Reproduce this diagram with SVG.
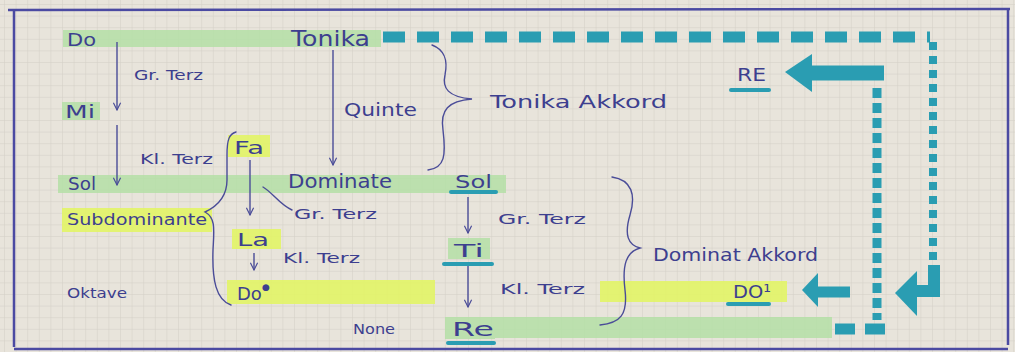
<svg xmlns="http://www.w3.org/2000/svg" width="1015" height="352" viewBox="0 0 1015 352">
<style>
.ink{fill:#3d3f8f;font-family:"DejaVu Sans","Liberation Sans",sans-serif;}
.lbl{font-size:14px;}
.nd{font-size:18px;}
.line{fill:none;stroke:#4a4c98;stroke-width:1.4;stroke-linecap:round;}
.arr{fill:none;stroke:#4a4c98;stroke-width:1.4;marker-end:url(#ah);}
.green{fill:#b4dfa6;opacity:0.85;}
.yellow{fill:#e2f466;opacity:0.9;}
.teal{stroke:#2a9db2;fill:none;}
.tealf{fill:#2a9db2;}
.ul{stroke:#2a9db2;stroke-width:4;stroke-linecap:round;}
</style>
<defs>
<pattern id="grid" width="11.6" height="11.6" patternUnits="userSpaceOnUse" x="4" y="4">
<path d="M11.6 0 L0 0 L0 11.6" fill="none" stroke="#d2cec5" stroke-width="1"/>
</pattern>
<marker id="ah" viewBox="0 0 10 10" refX="9" refY="5" markerWidth="9" markerHeight="9" markerUnits="userSpaceOnUse" orient="auto">
<path d="M1 1 L9 5 L1 9" fill="none" stroke="#4a4c98" stroke-width="1.3"/>
</marker>
</defs>
<rect width="1015" height="352" fill="#e8e4db"/>
<rect width="1015" height="352" fill="url(#grid)"/>
<!-- frame -->
<g id="frame" fill="none" stroke="#4b4aa2" stroke-width="2.5">
<path d="M8 10 L1010 9"/>
<path d="M14 11 L14 347"/>
<path d="M1008 10 L1008 345"/>
<path d="M14 349 L1008 349"/>
</g>
<!-- highlights -->
<g id="highlights">
<rect class="green" x="63" y="30" width="318" height="17"/>
<rect class="green" x="62" y="102" width="38" height="18"/>
<rect class="green" x="58" y="175" width="448" height="18"/>
<rect class="green" x="448" y="238" width="42" height="21"/>
<rect class="green" x="445" y="317" width="50" height="22"/>
<rect class="green" x="495" y="317" width="337" height="21" opacity="0.7"/>
<rect class="yellow" x="228" y="135" width="42" height="22"/>
<rect class="yellow" x="62" y="208" width="150" height="24"/>
<rect class="yellow" x="232" y="229" width="49" height="20"/>
<rect class="yellow" x="227" y="280" width="208" height="24"/>
<rect class="yellow" x="600" y="281" width="187" height="21"/>
</g>
<!-- connectors -->
<g id="connectors">
<path class="arr" d="M117 42 L117 110"/>
<path class="arr" d="M117 125 L117 185"/>
<path class="arr" d="M333 50 L333 165"/>
<path class="arr" d="M250 160 L250 215"/>
<path class="arr" d="M254 253 L254 270"/>
<path class="arr" d="M468 197 L468 233"/>
<path class="arr" d="M468 262 L468 307"/>
<path class="line" d="M263 187 C272 192 280 205 292 210"/>
<path class="line" d="M432 45 C445 50 448 60 445 75 C442 88 448 97 472 99 C448 101 440 110 443 130 C446 155 445 168 428 170"/>
<path class="line" d="M612 177 C632 180 636 195 630 215 C624 235 628 245 640 248 C626 252 622 265 625 290 C628 315 620 323 600 325"/>
<path class="line" d="M236 132 C229 134 227 140 227 155 L227 180 C227 195 220 205 205 212 C216 218 214 230 213 250 C212 280 216 300 231 305"/>
<!-- teal paths -->
<path class="teal" d="M383 37 L930 37" stroke-width="11" stroke-dasharray="22 12"/>
<path class="teal" d="M933 42 L933 266" stroke-width="8" stroke-dasharray="8 6"/>
<path class="teal" d="M877 88 L877 320" stroke-width="9" stroke-dasharray="10 5"/>
<path class="teal" d="M835 329 L885 329" stroke-width="11" stroke-dasharray="20 10"/>
<path class="teal" d="M810 73 L884 73" stroke-width="15"/>
<polygon class="tealf" points="785,72 812,54 812,92"/>
<path class="teal" d="M817 292 L850 292" stroke-width="11"/>
<polygon class="tealf" points="802,290 818,273 818,307"/>
<path class="teal" d="M934 265 L934 291 L912 291" stroke-width="12"/>
<polygon class="tealf" points="895,293 917,271 917,316"/>
</g>
<!-- underlines -->
<g id="underlines">
<line class="ul" x1="451" y1="192" x2="496" y2="192"/>
<line class="ul" x1="444" y1="264" x2="492" y2="264"/>
<line class="ul" x1="448" y1="343" x2="494" y2="343"/>
<line class="ul" x1="731" y1="90" x2="769" y2="90"/>
<line class="ul" x1="728" y1="304" x2="769" y2="304"/>
</g>
<!-- nodes -->
<g id="n-do"><text class="ink nd" x="67" y="46" textLength="29" lengthAdjust="spacingAndGlyphs">Do</text></g>
<g id="n-tonika"><text class="ink" font-size="21" x="291" y="46" textLength="79" lengthAdjust="spacingAndGlyphs">Tonika</text></g>
<g id="n-mi"><text class="ink nd" x="65" y="118" textLength="30" lengthAdjust="spacingAndGlyphs">Mi</text></g>
<g id="n-fa"><text class="ink nd" x="234" y="154" textLength="30" lengthAdjust="spacingAndGlyphs">Fa</text></g>
<g id="n-sol"><text class="ink nd" x="68" y="190" textLength="28" lengthAdjust="spacingAndGlyphs">Sol</text></g>
<g id="n-dominate"><text class="ink" font-size="19" x="288" y="188" textLength="104" lengthAdjust="spacingAndGlyphs">Dominate</text></g>
<g id="n-sol2"><text class="ink nd" x="455" y="188" textLength="37" lengthAdjust="spacingAndGlyphs">Sol</text></g>
<g id="n-subdominante"><text class="ink" font-size="16" x="67" y="225" textLength="140" lengthAdjust="spacingAndGlyphs">Subdominante</text></g>
<g id="n-la"><text class="ink nd" x="237" y="246" textLength="32" lengthAdjust="spacingAndGlyphs">La</text></g>
<g id="n-ti"><text class="ink nd" x="454" y="257" textLength="30" lengthAdjust="spacingAndGlyphs">Ti</text></g>
<g id="n-do2"><text class="ink nd" x="237" y="300">Do<tspan font-size="9" dy="-10">●</tspan></text></g>
<g id="n-oktave"><text class="ink lbl" x="67" y="298" textLength="60" lengthAdjust="spacingAndGlyphs">Oktave</text></g>
<g id="n-none"><text class="ink lbl" x="353" y="334" textLength="42" lengthAdjust="spacingAndGlyphs">None</text></g>
<g id="n-re"><text class="ink" font-size="20" x="452" y="336" textLength="42" lengthAdjust="spacingAndGlyphs">Re</text></g>
<g id="n-RE"><text class="ink nd" x="737" y="81" textLength="29" lengthAdjust="spacingAndGlyphs">RE</text></g>
<g id="n-DO"><text class="ink nd" x="733" y="298" textLength="38" lengthAdjust="spacingAndGlyphs">DO¹</text></g>
<!-- labels -->
<g id="labels">
<text class="ink lbl" x="134" y="80" textLength="69" lengthAdjust="spacingAndGlyphs">Gr. Terz</text>
<text class="ink nd" x="344" y="116" textLength="73" lengthAdjust="spacingAndGlyphs">Quinte</text>
<text class="ink nd" x="490" y="108" textLength="177" lengthAdjust="spacingAndGlyphs">Tonika Akkord</text>
<text class="ink lbl" x="140" y="164" textLength="73" lengthAdjust="spacingAndGlyphs">Kl. Terz</text>
<text class="ink lbl" x="294" y="219" textLength="83" lengthAdjust="spacingAndGlyphs">Gr. Terz</text>
<text class="ink lbl" x="283" y="263" textLength="77" lengthAdjust="spacingAndGlyphs">Kl. Terz</text>
<text class="ink lbl" x="498" y="224" textLength="88" lengthAdjust="spacingAndGlyphs">Gr. Terz</text>
<text class="ink lbl" x="500" y="294" textLength="85" lengthAdjust="spacingAndGlyphs">Kl. Terz</text>
<text class="ink nd" x="653" y="261" textLength="165" lengthAdjust="spacingAndGlyphs">Dominat Akkord</text>
</g>
</svg>
